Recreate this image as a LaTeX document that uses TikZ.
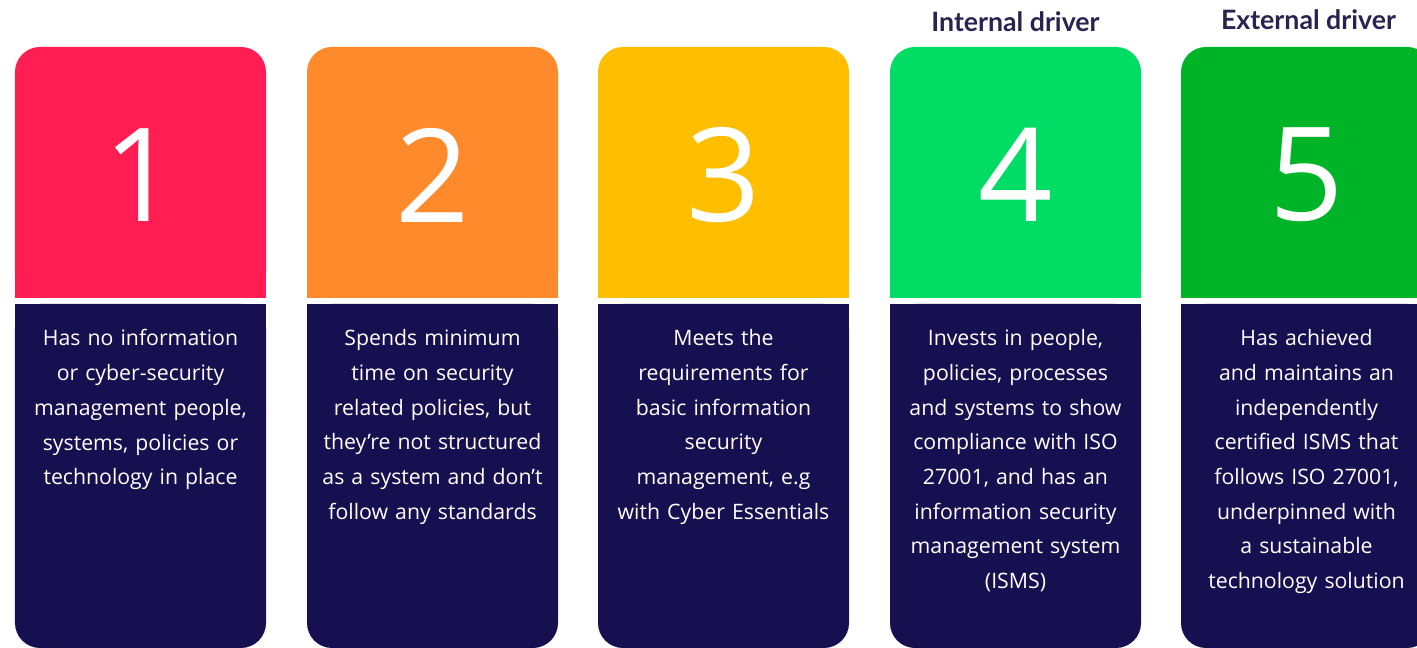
\documentclass[tikz,border=0pt]{standalone}
\usepackage{fontspec}
\setmainfont{Open Sans}
\newfontfamily\headfont{Lato}
\usepackage{xcolor}
\definecolor{lvlred}{RGB}{255,29,82}
\definecolor{lvlorange}{RGB}{255,138,43}
\definecolor{lvlamber}{RGB}{255,190,0}
\definecolor{lvlgreen}{RGB}{0,220,100}
\definecolor{lvldkgreen}{RGB}{0,180,40}
\definecolor{lvlnavy}{RGB}{23,16,80}
\definecolor{lvlhead}{RGB}{40,36,82}
\usetikzlibrary{positioning}

\begin{document}
\begin{tikzpicture}[
  lvlnum/.style={inner sep=0pt,text=white,font=\fontsize{37}{40}\selectfont},
  lvldesc/.style={anchor=north,inner sep=0pt,text width=2.45cm,align=center,
    text=white,font=\fontsize{6.05}{9.87}\selectfont},
  lvldriver/.style={inner sep=0pt,text=lvlhead,font=\headfont\bfseries\fontsize{7.6}{9}\selectfont}
]
  \useasboundingbox (0,0) rectangle (14.17,6.48);
  \clip (0,0) rectangle (14.17,6.48);

  % Coloured level tiles (round top, square bottom)
  \fill[lvlred,rounded corners=0.25cm] (0.15,3.50) rectangle (2.66,6.01);
  \fill[lvlred] (0.15,3.50) rectangle (2.66,4.50);
  \fill[lvlorange,rounded corners=0.25cm] (3.07,3.50) rectangle (5.58,6.01);
  \fill[lvlorange] (3.07,3.50) rectangle (5.58,4.50);
  \fill[lvlamber,rounded corners=0.25cm] (5.98,3.50) rectangle (8.49,6.01);
  \fill[lvlamber] (5.98,3.50) rectangle (8.49,4.50);
  \fill[lvlgreen,rounded corners=0.25cm] (8.90,3.50) rectangle (11.41,6.01);
  \fill[lvlgreen] (8.90,3.50) rectangle (11.41,4.50);
  \fill[lvldkgreen,rounded corners=0.25cm] (11.81,3.50) rectangle (14.32,6.01);
  \fill[lvldkgreen] (11.81,3.50) rectangle (14.32,4.50);

  % Navy description panels (square top, round bottom)
  \fill[lvlnavy,rounded corners=0.25cm] (0.15,0) rectangle (2.66,3.44);
  \fill[lvlnavy] (0.15,1.50) rectangle (2.66,3.44);
  \fill[lvlnavy,rounded corners=0.25cm] (3.07,0) rectangle (5.58,3.44);
  \fill[lvlnavy] (3.07,1.50) rectangle (5.58,3.44);
  \fill[lvlnavy,rounded corners=0.25cm] (5.98,0) rectangle (8.49,3.44);
  \fill[lvlnavy] (5.98,1.50) rectangle (8.49,3.44);
  \fill[lvlnavy,rounded corners=0.25cm] (8.90,0) rectangle (11.41,3.44);
  \fill[lvlnavy] (8.90,1.50) rectangle (11.41,3.44);
  \fill[lvlnavy,rounded corners=0.25cm] (11.81,0) rectangle (14.32,3.44);
  \fill[lvlnavy] (11.81,1.50) rectangle (14.32,3.44);

  % Level numbers
  \node[lvlnum] (lvl1) at (1.405,4.73) {1};
  \node[lvlnum] (lvl2) at (4.325,4.73) {2};
  \node[lvlnum] (lvl3) at (7.235,4.73) {3};
  \node[lvlnum] (lvl4) at (10.155,4.73) {4};
  \node[lvlnum] (lvl5) at (13.065,4.73) {5};

  % Descriptions
  \node[lvldesc] (desc1) at (1.405,3.19) {Has no information\\or cyber-security\\management people,\\systems, policies or\\technology in place};
  \node[lvldesc] (desc2) at (4.325,3.19) {Spends minimum\\time on security\\related policies, but\\they’re not structured\\as a system and don’t\\follow any standards};
  \node[lvldesc] (desc3) at (7.235,3.19) {Meets the\\requirements for\\basic information\\security\\management, e.g\\with Cyber Essentials};
  \node[lvldesc] (desc4) at (10.155,3.19) {Invests in people,\\policies, processes\\and systems to show\\compliance with ISO\\27001, and has an\\information security\\management system\\(ISMS)};
  \node[lvldesc] (desc5) at (13.065,3.19) {Has achieved\\and maintains an\\independently\\certified ISMS that\\follows ISO 27001,\\underpinned with\\a sustainable\\technology solution};

  % Drivers
  \node[lvldriver] (intdrv) at (10.155,6.26) {Internal driver};
  \node[lvldriver] (extdrv) at (13.085,6.28) {External driver};
\end{tikzpicture}
\end{document}
